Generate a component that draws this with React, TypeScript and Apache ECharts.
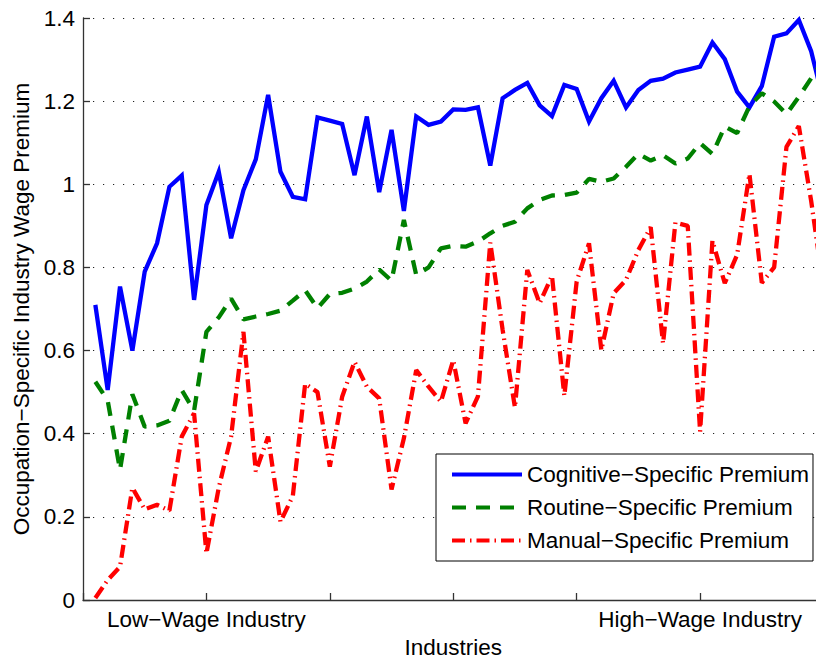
import React, { useEffect, useRef } from "react";
import * as echarts from "echarts";

// Industry index positions run 1..60 (ranked low-wage to high-wage)
const cognitive = [
  0.71, 0.505, 0.754, 0.6, 0.79, 0.858, 0.994, 1.021, 0.722, 0.95,
  1.03, 0.87, 0.986, 1.06, 1.215, 1.03, 0.97, 0.964, 1.161, 1.153,
  1.145, 1.022, 1.163, 0.981, 1.131, 0.936, 1.163, 1.143, 1.151, 1.18,
  1.179, 1.185, 1.045, 1.207, 1.227, 1.244, 1.19, 1.164, 1.239, 1.229,
  1.151, 1.207, 1.249, 1.185, 1.227, 1.249, 1.254, 1.269, 1.276, 1.283,
  1.341, 1.301, 1.223, 1.185, 1.236, 1.355, 1.363, 1.395, 1.32, 1.2,
];
const routine = [
  0.525, 0.48, 0.313, 0.495, 0.417, 0.42, 0.431, 0.505, 0.455, 0.645,
  0.68, 0.725, 0.675, 0.682, 0.688, 0.696, 0.72, 0.745, 0.702, 0.736,
  0.739, 0.749, 0.766, 0.795, 0.768, 0.914, 0.782, 0.8, 0.846, 0.852,
  0.85, 0.862, 0.882, 0.9, 0.91, 0.942, 0.962, 0.973, 0.974, 0.98,
  1.013, 1.006, 1.014, 1.042, 1.073, 1.057, 1.07, 1.05, 1.062, 1.099,
  1.073, 1.139, 1.123, 1.188, 1.219, 1.199, 1.169, 1.21, 1.255, 1.3,
];
const manual = [
  0.005, 0.048, 0.08, 0.27, 0.218, 0.229, 0.215, 0.393, 0.449, 0.112,
  0.27, 0.393, 0.645, 0.309, 0.393, 0.188, 0.25, 0.52, 0.5, 0.321,
  0.489, 0.573, 0.513, 0.485, 0.266, 0.389, 0.553, 0.513, 0.477, 0.577,
  0.425, 0.49, 0.86, 0.65, 0.463, 0.794, 0.714, 0.78, 0.491, 0.766,
  0.858, 0.601, 0.738, 0.77, 0.842, 0.897, 0.617, 0.908, 0.9, 0.405,
  0.864, 0.762, 0.83, 1.025, 0.763, 0.8, 1.09, 1.14, 0.96, 0.75,
];
const seriesNames = [
  "Cognitive\u2212Specific Premium",
  "Routine\u2212Specific Premium",
  "Manual\u2212Specific Premium",
];
// x tick labels at 0,10,...,60
const xTickLabels = ["", "Low\u2212Wage Industry", "", "", "", "High\u2212Wage Industry", ""];
const xAxisTitle = "Industries";
const yAxisTitle = "Occupation\u2212Specific Industry Wage Premium";

const FONT = "'Liberation Sans', Arial, Helvetica, sans-serif";
const FS = 22.5;

const toPoints = (vals: number[]) => vals.map((v, i) => [i + 1, v]);

export default function App() {
  const ref = useRef<HTMLDivElement>(null);
  useEffect(() => {
    if (!ref.current) return;
    const chart = echarts.init(ref.current, null, { renderer: "svg" });
    chart.setOption({
      animation: false,
      backgroundColor: "#fff",
      textStyle: { fontFamily: FONT, color: "#000" },
      grid: {
        left: 83,
        top: 18,
        bottom: 57,
        right: 16.5,
        containLabel: false,
        outerBoundsMode: "none",
      },
      legend: {
        orient: "vertical",
        left: 436,
        top: 454,
        padding: [9, 4, 9, 14],
        itemGap: 10,
        itemWidth: 70,
        itemHeight: 22,
        borderColor: "#000",
        borderWidth: 1,
        backgroundColor: "#fff",
        lineStyle: { width: 4 },
        itemStyle: { opacity: 0, borderWidth: 0 },
        textStyle: { fontFamily: FONT, fontSize: FS, color: "#000" },
        data: seriesNames,
      },
      xAxis: {
        type: "value",
        min: 0,
        max: 60,
        interval: 10,
        name: xAxisTitle,
        nameLocation: "middle",
        nameGap: 35,
        nameTextStyle: { fontFamily: FONT, fontSize: FS, color: "#000" },
        axisLine: { show: true, onZero: false, lineStyle: { color: "#333", width: 1.3 } },
        axisTick: { show: true, inside: true, length: 7, lineStyle: { color: "#333", width: 1.3 } },
        axisLabel: {
          margin: 8,
          fontFamily: FONT,
          fontSize: FS,
          color: "#000",
          formatter: (v: number) => xTickLabels[Math.round(v / 10)] || "",
        },
        splitLine: { show: false },
      },
      yAxis: {
        type: "value",
        min: 0,
        max: 1.4,
        interval: 0.2,
        name: yAxisTitle,
        nameLocation: "middle",
        nameGap: 48,
        nameTextStyle: { fontFamily: FONT, fontSize: FS, color: "#000" },
        axisLine: { show: true, lineStyle: { color: "#333", width: 1.3 } },
        axisTick: { show: true, inside: true, length: 7, lineStyle: { color: "#333", width: 1.3 } },
        axisLabel: { margin: 8, fontFamily: FONT, fontSize: FS, color: "#000", padding: [4, 0, 0, 0] },
        splitLine: {
          show: true,
          lineStyle: { color: "#222", width: 1, type: [1.2, 8.8] },
        },
      },
      series: [
        {
          name: seriesNames[0],
          type: "line",
          data: toPoints(cognitive),
          symbol: "none",
          lineStyle: { color: "#0000ff", width: 4.3, type: "solid", join: "miter" },
          itemStyle: { color: "#0000ff" },
        },
        {
          name: seriesNames[1],
          type: "line",
          data: toPoints(routine),
          symbol: "none",
          lineStyle: { color: "#008000", width: 4.3, type: [14, 10], cap: "butt" },
          itemStyle: { color: "#008000" },
        },
        {
          name: seriesNames[2],
          type: "line",
          data: toPoints(manual),
          symbol: "none",
          lineStyle: { color: "#ff0000", width: 4.3, type: [13, 5, 1.5, 5], cap: "butt" },
          itemStyle: { color: "#ff0000" },
        },
      ],
    });
    return () => chart.dispose();
  }, []);
  return (
    <div
      style={{
        position: "fixed",
        left: 0,
        top: 0,
        width: 816,
        height: 657,
        overflow: "hidden",
        background: "#fff",
      }}
    >
      <div ref={ref} style={{ width: 840, height: 657 }} />
    </div>
  );
}
